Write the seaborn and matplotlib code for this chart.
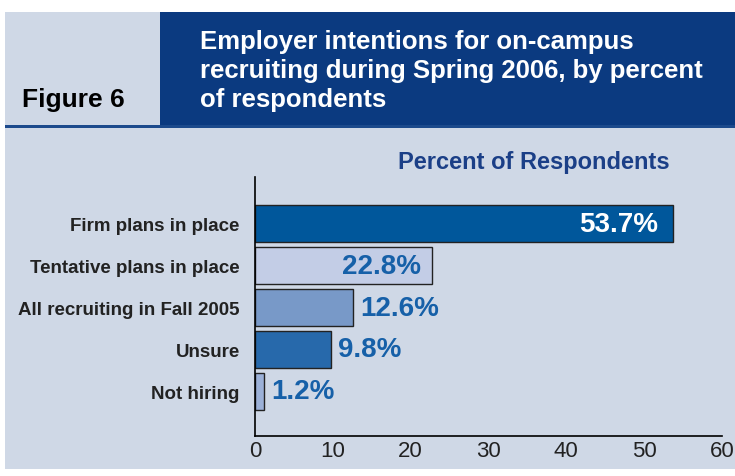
import matplotlib
matplotlib.use("Agg")
import matplotlib.pyplot as plt
import seaborn as sns
import pandas as pd
from matplotlib.patches import Rectangle

categories = ["Firm plans in place", "Tentative plans in place", "All recruiting in Fall 2005", "Unsure", "Not hiring"]
values = [53.7, 22.8, 12.6, 9.8, 1.2]
bar_colors = ["#00579b", "#c3cde6", "#7899c8", "#2769ab", "#9cb1d8"]
xticks = [0, 10, 20, 30, 40, 50, 60]

df = pd.DataFrame({"cat": categories, "val": values})

sns.set_style("white")
plt.rcParams['font.family'] = ['Liberation Sans', 'DejaVu Sans']

fig = plt.figure(figsize=(7.35, 4.77), dpi=100)
fig.patch.set_facecolor("white")

W, H = 735, 477
# background panel
fig.patches.append(Rectangle((5 / W, 7 / H), 730 / W, (464 - 7) / H, transform=fig.transFigure,
                             facecolor="#cfd8e6", edgecolor="none", zorder=0))
fig.patches.append(Rectangle((160 / W, (H - 127) / H), 575 / W, 114 / H, transform=fig.transFigure,
                             facecolor="#0b3a80", edgecolor="none", zorder=1))
fig.patches.append(Rectangle((5 / W, (H - 129) / H), 730 / W, 3 / H, transform=fig.transFigure,
                             facecolor="#1c4a8c", edgecolor="none", zorder=1))

fig.text(22 / W, (H - 100) / H, "Figure 6", fontsize=19, fontweight="bold", color="black",
         va="center", ha="left")
fig.text(200 / W, (H - 71) / H,
         "Employer intentions for on-campus\nrecruiting during Spring 2006, by percent\nof respondents",
         fontsize=18.5, fontweight="bold", color="white", va="center", ha="left", linespacing=1.27)

ax = fig.add_axes([255 / W, 40 / H, 467 / W, (437 - 178) / H])
ax.set_facecolor("none")
ax.set_zorder(5)

sns.barplot(data=df, x="val", y="cat", hue="cat", palette=bar_colors, legend=False, saturation=1,
            width=0.88, edgecolor="#222222", linewidth=1.0, ax=ax)

ax.set_xlim(0, 60)
ax.set_ylim(len(categories) - 1 + 1.07, -1.12)
ax.set_xticks(xticks)
ax.set_xticklabels([str(t) for t in xticks], fontsize=16, color="#222222")
ax.set_yticks(range(len(categories)))
ax.set_yticklabels(categories, fontsize=13.5, fontweight="bold", color="#222222")
ax.tick_params(axis="x", direction="in", length=7, width=1.2, color="black", pad=3)
ax.tick_params(axis="y", length=0, pad=11)
ax.set_xlabel("")
ax.set_ylabel("")

for side in ["top", "right"]:
    ax.spines[side].set_visible(False)
for side in ["left", "bottom"]:
    ax.spines[side].set_color("black")
    ax.spines[side].set_linewidth(1.2)

for i, v in enumerate(values):
    label = f"{v}%"
    if i == 0:
        ax.annotate(label, (v, i), xytext=(-11, 0), textcoords="offset points", ha="right", va="center",
                    fontsize=20, fontweight="bold", color="white")
    elif i == 1:
        ax.annotate(label, (v, i), xytext=(-8, 0), textcoords="offset points", ha="right", va="center",
                    fontsize=20, fontweight="bold", color="#1660a8")
    else:
        ax.annotate(label, (v, i), xytext=(5, 0), textcoords="offset points", ha="left", va="center",
                    fontsize=20, fontweight="bold", color="#1660a8")

fig.text(670 / W, (H - 162) / H, "Percent of Respondents", fontsize=17, fontweight="bold",
         color="#1b3f87", ha="right", va="center")

fig.savefig("out.png", dpi=100, facecolor=fig.get_facecolor())
